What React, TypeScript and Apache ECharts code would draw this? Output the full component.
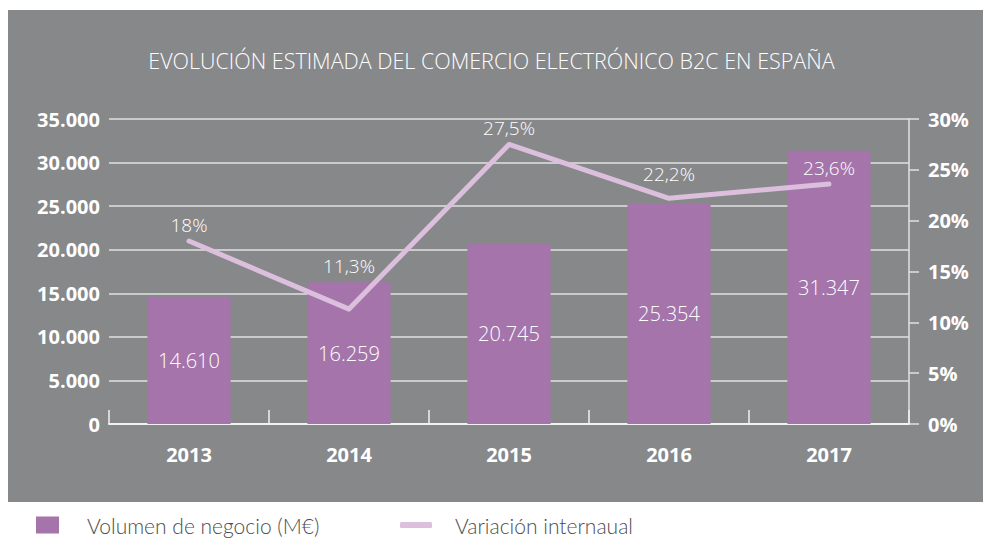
import React, { useEffect, useRef } from "react";
import * as echarts from "echarts";

const years = ["2013", "2014", "2015", "2016", "2017"];
const volumen = [14610, 16259, 20745, 25354, 31347];
const variacion = [18, 11.3, 27.5, 22.2, 23.6];
const leftTicks = { min: 0, max: 35000, interval: 5000 };
const rightTicks = { min: 0, max: 30, interval: 5 };

const titleText = "EVOLUCIÓN ESTIMADA DEL COMERCIO ELECTRÓNICO B2C EN ESPAÑA";
const barName = "Volumen de negocio (M€)";
const lineName = "Variación internaual";

const GRAY = "#87888a";
const BAR = "#a474aa";
const LINE = "#dbbfdc";
const GRID = "#e2e2e2";
const FONT = "'Open Sans', 'Noto Sans', sans-serif";
const LEGEND_FONT = "Lato, 'Open Sans', sans-serif";

const fmtThousands = (v: number) =>
  String(Math.round(v)).replace(/\B(?=(\d{3})+(?!\d))/g, ".");
const fmtPct = (v: number) => String(v).replace(".", ",") + "%";

// extra lift of each line label above its point (px)
const labelLift = [0, 27, 0, 8, 0];

export default function App() {
  const ref = useRef<HTMLDivElement>(null);
  useEffect(() => {
    if (!ref.current) return;
    const chart = echarts.init(ref.current, undefined, { renderer: "svg" });
    chart.setOption({
      animation: false,
      graphic: [
        {
          type: "rect",
          z: -100,
          silent: true,
          shape: { x: 8, y: 10, width: 975, height: 492 },
          style: { fill: GRAY },
        },
      ],
      title: {
        text: titleText,
        left: "center",
        top: 44,
        textStyle: {
          color: "#ffffff",
          fontFamily: FONT,
          fontWeight: 300,
          fontSize: 21.5,
        },
      },
      legend: [
        {
          data: [{ name: barName, icon: "rect" }],
          left: 31,
          top: 508,
          itemWidth: 23,
          itemHeight: 17,
          textStyle: {
            color: "#4d4d4d",
            fontFamily: LEGEND_FONT,
            fontWeight: 300,
            fontSize: 21,
            lineHeight: 24,
            padding: [0, 0, 0, 23],
          },
        },
        {
          data: [{ name: lineName, icon: "roundRect" }],
          left: 395,
          top: 508,
          itemWidth: 32,
          itemHeight: 6,
          textStyle: {
            color: "#4d4d4d",
            fontFamily: LEGEND_FONT,
            fontWeight: 300,
            fontSize: 21,
            lineHeight: 24,
            padding: [0, 0, 0, 18],
          },
        },
      ],
      grid: { left: 109, right: 74, top: 119, bottom: 114, containLabel: false },
      xAxis: {
        type: "category",
        data: years,
        axisLine: { show: true, lineStyle: { color: "#f2f2f2", width: 2 } },
        axisTick: {
          show: true,
          inside: true,
          length: 14,
          lineStyle: { color: "#f2f2f2", width: 1.5 },
        },
        axisLabel: {
          color: "#ffffff",
          fontFamily: FONT,
          fontWeight: "bold",
          fontSize: 20,
          margin: 20,
        },
      },
      yAxis: [
        {
          type: "value",
          min: leftTicks.min,
          max: leftTicks.max,
          interval: leftTicks.interval,
          axisLine: { show: false },
          axisTick: { show: false },
          splitLine: { show: true, lineStyle: { color: GRID, width: 1.5 } },
          axisLabel: {
            color: "#ffffff",
            fontFamily: FONT,
            fontWeight: "bold",
            fontSize: 20,
            margin: 9,
            formatter: (v: number) => fmtThousands(v),
          },
        },
        {
          type: "value",
          position: "right",
          min: rightTicks.min,
          max: rightTicks.max,
          interval: rightTicks.interval,
          axisLine: { show: true, lineStyle: { color: GRID, width: 1.5 } },
          axisTick: { show: true, length: 10, lineStyle: { color: GRID, width: 1.5 } },
          splitLine: { show: false },
          axisLabel: {
            color: "#ffffff",
            fontFamily: FONT,
            fontWeight: "bold",
            fontSize: 20,
            margin: 19,
            formatter: (v: number) => v + "%",
          },
        },
      ],
      series: [
        {
          name: barName,
          type: "bar",
          data: volumen,
          barWidth: "52%",
          itemStyle: { color: BAR },
          label: {
            show: true,
            position: "inside",
            color: "#ffffff",
            fontFamily: FONT,
            fontWeight: 300,
            fontSize: 20,
            formatter: (p: any) => fmtThousands(p.value),
          },
        },
        {
          name: lineName,
          type: "line",
          yAxisIndex: 1,
          data: variacion.map((v, i) => ({
            value: v,
            label: { offset: [0, -labelLift[i]] },
          })),
          symbol: "circle",
          symbolSize: 1,
          itemStyle: { color: LINE },
          lineStyle: { color: LINE, width: 5, cap: "round", join: "round" },
          label: {
            show: true,
            position: "top",
            distance: 6,
            color: "#ffffff",
            fontFamily: FONT,
            fontWeight: 300,
            fontSize: 19,
            formatter: (p: any) => fmtPct(p.value),
          },
        },
      ],
    });
    return () => chart.dispose();
  }, []);
  return (
    <div
      ref={ref}
      style={{ position: "absolute", left: 0, top: 0, width: 983, height: 538 }}
    />
  );
}
